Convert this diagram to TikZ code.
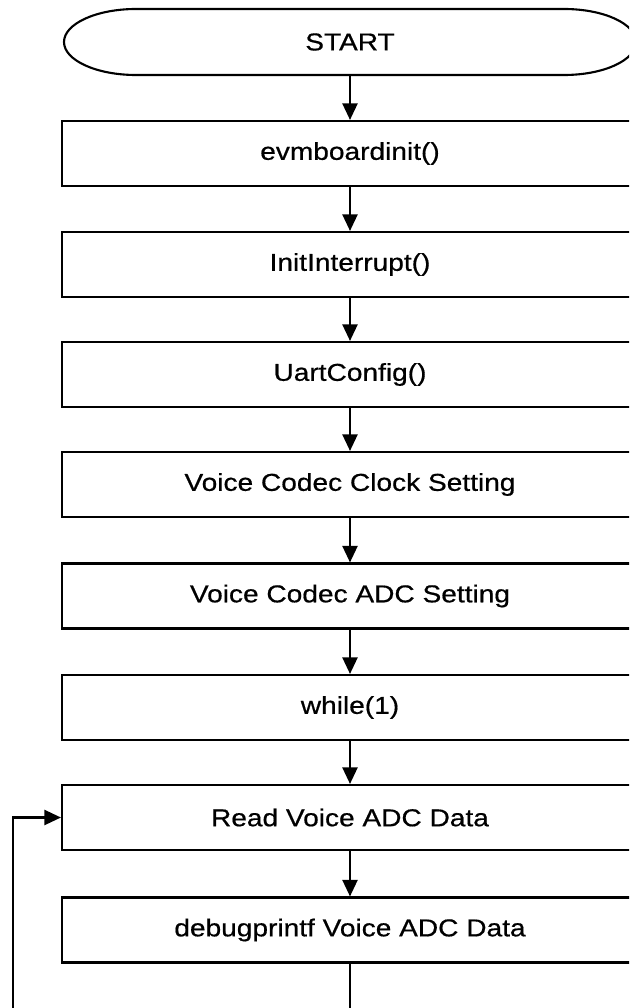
\documentclass[tikz,border=0pt]{standalone}
\usepackage{fontspec}
\setmainfont{Liberation Sans}[FakeStretch=1.15,FakeBold=0.6]
\usetikzlibrary{arrows.meta}
\begin{document}
\begin{tikzpicture}[line width=1.2pt,
  every node/.style={font=\fontsize{13.9pt}{16pt}\selectfont},
  proc/.style={draw,rectangle,minimum width=11.52cm,minimum height=1.3cm,inner sep=0pt},
  arr/.style={-{Triangle[length=0.33cm,width=0.3cm]}}]
  % page frame
  \clip (0,0) rectangle (12.58,-20.16);
  % start terminal
  \node (start) [minimum width=11.44cm,minimum height=1.32cm,inner sep=0pt,outer sep=0pt] at (7,-0.84) {START};
  \draw ([xshift=1.44cm]start.north west) -- ([xshift=-1.44cm]start.north east)
    arc[start angle=90,end angle=-90,x radius=1.44cm,y radius=0.66cm]
    -- ([xshift=1.44cm]start.south west)
    arc[start angle=270,end angle=90,x radius=1.44cm,y radius=0.66cm] -- cycle;
  % steps
  \node[proc] (evm) at (7,-3.07) {evmboardinit()};
  \node[proc] (intr) at (7,-5.29) {InitInterrupt()};
  \node[proc] (uart) at (7,-7.49) {UartConfig()};
  \node[proc] (clk) at (7,-9.69) {Voice Codec Clock Setting};
  \node[proc] (adc) at (7,-11.92) {Voice Codec ADC Setting};
  \node[proc] (loop) at (7,-14.15) {while(1)};
  \node[proc] (read) at (7,-16.35) {Read Voice ADC Data};
  \node[proc] (dbg) at (7,-18.6) {debugprintf Voice ADC Data};
  % arrows
  \draw[arr] (start) -- (evm);
  \draw[arr] (evm) -- (intr);
  \draw[arr] (intr) -- (uart);
  \draw[arr] (uart) -- (clk);
  \draw[arr] (clk) -- (adc);
  \draw[arr] (adc) -- (loop);
  \draw[arr] (loop) -- (read);
  \draw[arr] (read) -- (dbg);
  % back to read
  \coordinate (back) at (0.26,-21);
  \draw[arr] (dbg) |- (back) |- (read);
\end{tikzpicture}
\end{document}
